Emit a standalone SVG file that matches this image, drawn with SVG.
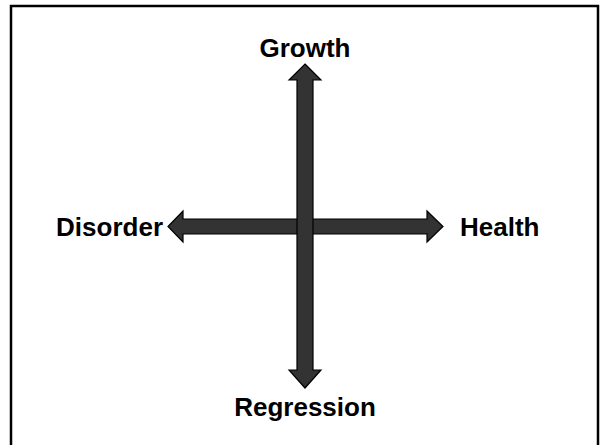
<svg xmlns="http://www.w3.org/2000/svg" width="602" height="445" viewBox="0 0 602 445">
<style>
.lbl{font-family:"Liberation Sans",Arial,sans-serif;font-weight:bold;font-size:26px;fill:#000}
.arr{fill:#333333;stroke:#000;stroke-width:1.2;stroke-linejoin:miter}
</style>
<rect x="0" y="0" width="602" height="445" fill="#fff"/>
<rect x="11" y="6" width="587" height="460" fill="none" stroke="#000" stroke-width="2.5"/>
<g id="connectors">
<path class="arr" d="M168,226.5 L183,211 L183,219 L427,219 L427,211 L443,226.5 L427,242 L427,234 L183,234 L183,242 Z"/>
<path class="arr" d="M305,64 L321,80 L313,80 L313,370 L321,370 L305,388 L289,370 L297,370 L297,80 L289,80 Z"/>
</g>
<g id="growth"><text class="lbl" x="305" y="57" text-anchor="middle">Growth</text></g>
<g id="disorder"><text class="lbl" x="163" y="236" text-anchor="end">Disorder</text></g>
<g id="health"><text class="lbl" x="460" y="236">Health</text></g>
<g id="regression"><text class="lbl" x="305" y="416" text-anchor="middle">Regression</text></g>
</svg>
